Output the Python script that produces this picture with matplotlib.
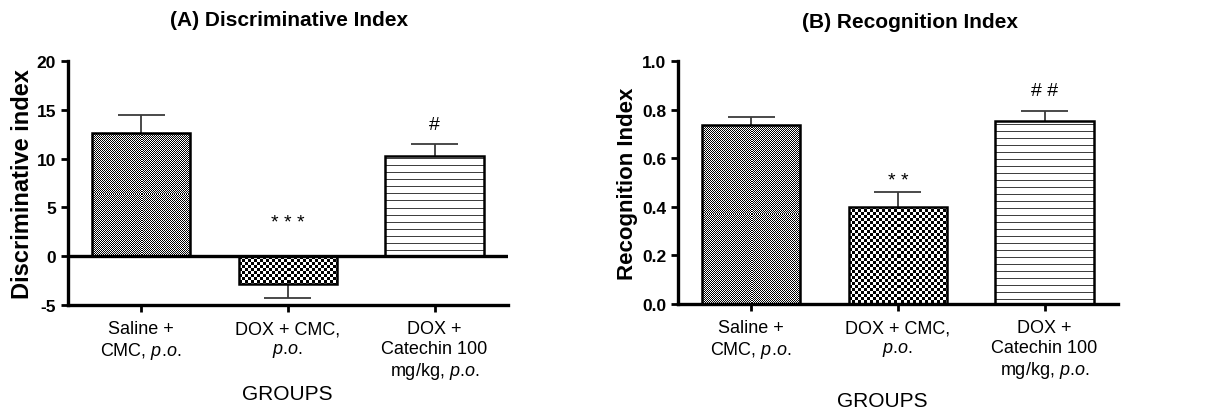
import matplotlib

matplotlib.use("Agg")
import matplotlib.pyplot as plt
import numpy as np

plt.rcParams["font.family"] = ["Liberation Sans", "DejaVu Sans"]
plt.rcParams["mathtext.fontset"] = "custom"
plt.rcParams["mathtext.rm"] = "Liberation Sans"
plt.rcParams["mathtext.it"] = "Liberation Sans:italic"

# \! cancels the thin space mathtext puts after a period
PO = "$\\mathit{p.\\!o.}$"
GROUPS = ["Saline +\nCMC, " + PO,
          "DOX + CMC,\n" + PO,
          "DOX +\nCatechin 100\nmg/kg, " + PO]

# (A) discriminative index, mean and SEM
DI_MEAN = [12.65, -2.85, 10.3]
DI_SEM = [1.85, 1.45, 1.2]
DI_MARK = ["", "* * *", "#"]
DI_MARK_Y = [None, 3.5, 13.5]

# (B) recognition index, mean and SEM
RI_MEAN = [0.737, 0.40, 0.753]
RI_SEM = [0.033, 0.06, 0.04]
RI_MARK = ["", "* *", "# #"]
RI_MARK_Y = [None, 0.51, 0.88]

PATTERNS = ["fine", "checker", "lines"]
INK = "black"
ERR = "#3a3a3a"


def pattern_image(kind, nx, ny):
    j, i = np.meshgrid(np.arange(nx), np.arange(ny))
    if kind == "fine":
        return ((i + j) % 2).astype(float)
    if kind == "checker":
        return ((i // 3 + j // 3) % 2).astype(float)
    img = np.ones((ny, nx))
    img[i % 7 == 3] = 0.25
    return img


def fill_bar(ax, rect, kind):
    x0, y0 = rect.get_x(), rect.get_y()
    x1, y1 = x0 + rect.get_width(), y0 + rect.get_height()
    ylo, yhi = min(y0, y1), max(y0, y1)
    p0 = ax.transData.transform((x0, ylo))
    p1 = ax.transData.transform((x1, yhi))
    nx = max(1, int(round(abs(p1[0] - p0[0]))))
    ny = max(1, int(round(abs(p1[1] - p0[1]))))
    im = ax.imshow(pattern_image(kind, nx, ny), extent=(x0, x1, ylo, yhi),
                   cmap="gray", vmin=0, vmax=1, interpolation="nearest",
                   aspect="auto", zorder=2)
    im.set_clip_path(rect)


def panel(ax, means, sems, marks, mark_y, ylim, yticks, yfmt, ylabel,
          ylabel_size, ylabel_x, zero_line):
    x = np.arange(len(means))
    ax.set_xlim(-0.5, 2.5)
    ax.set_ylim(*ylim)
    bars = ax.bar(x, means, width=0.67, facecolor="none", edgecolor=INK,
                  linewidth=1.8, zorder=3)
    for rect, kind in zip(bars, PATTERNS):
        fill_bar(ax, rect, kind)
    ax.set_xlim(-0.5, 2.5)
    ax.set_ylim(*ylim)

    # one-sided error bars (away from zero)
    for xi, m, s in zip(x, means, sems):
        tip = m + s if m >= 0 else m - s
        ax.vlines(xi, m, tip, color=ERR, linewidth=1.3, zorder=1)
        ax.hlines(tip, xi - 0.16, xi + 0.16, color=ERR, linewidth=1.3, zorder=1)

    for xi, txt, yy in zip(x, marks, mark_y):
        if txt:
            ax.text(xi, yy, txt, ha="center", va="center", fontsize=14)

    if zero_line:
        ax.axhline(0, color=INK, linewidth=2.4, zorder=4)

    ax.set_xticks(x)
    ax.set_xticklabels(GROUPS, fontsize=13)
    ax.set_yticks(yticks)
    ax.set_yticklabels([yfmt.format(t) for t in yticks], fontsize=12.5,
                       fontweight="bold")
    ax.set_ylabel(ylabel, fontsize=ylabel_size, fontweight="bold")
    ax.yaxis.set_label_coords(ylabel_x, 0.5)
    for s in ("top", "right"):
        ax.spines[s].set_visible(False)
    for s in ("left", "bottom"):
        ax.spines[s].set_linewidth(2.4)
    ax.tick_params(axis="both", width=2.0, length=5)
    ax.tick_params(axis="x", pad=6)


fig = plt.figure(figsize=(12.07, 4.14), dpi=100)
axA = fig.add_axes([0.0563, 0.2609, 0.3645, 0.589])
axB = fig.add_axes([0.5617, 0.2633, 0.3645, 0.587])

panel(axA, DI_MEAN, DI_SEM, DI_MARK, DI_MARK_Y, (-5, 20), [-5, 0, 5, 10, 15, 20],
      "{:g}", "Discriminative index", 17, -0.078, True)
panel(axB, RI_MEAN, RI_SEM, RI_MARK, RI_MARK_Y, (0, 1.0), [0.0, 0.2, 0.4, 0.6, 0.8, 1.0],
      "{:.1f}", "Recognition Index", 16, -0.09, False)

fig.text(289 / 1207, 1 - 20 / 414, "(A) Discriminative Index", ha="center",
         va="center", fontsize=15, fontweight="bold")
fig.text(910 / 1207, 1 - 22 / 414, "(B) Recognition Index", ha="center",
         va="center", fontsize=15, fontweight="bold")
fig.text(287 / 1207, 1 - 395 / 414, "GROUPS", ha="center", va="center",
         fontsize=15)
fig.text(882 / 1207, 1 - 402 / 414, "GROUPS", ha="center", va="center",
         fontsize=15)

fig.savefig("out.png", dpi=100, facecolor="white")
